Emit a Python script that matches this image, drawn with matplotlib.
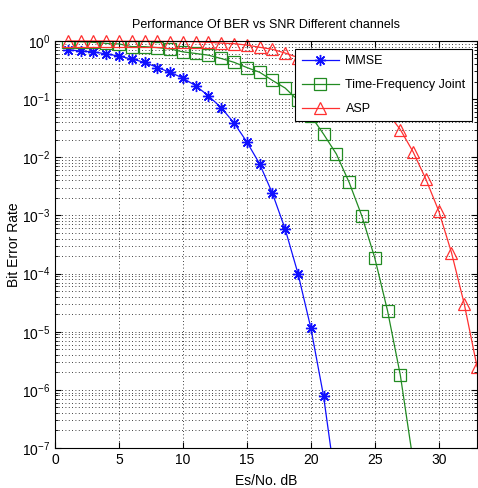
import matplotlib
matplotlib.use("Agg")
import matplotlib.pyplot as plt
from matplotlib.ticker import FixedLocator, LogFormatterSciNotation, NullFormatter
import numpy as np

plt.rcParams['font.family'] = ['Liberation Sans', 'DejaVu Sans']
plt.rcParams['mathtext.fontset'] = 'custom'
plt.rcParams['mathtext.rm'] = 'Liberation Sans'
plt.rcParams['mathtext.it'] = 'Liberation Sans'

snr_mmse = list(range(1, 23))
ber_mmse = [0.71, 0.67, 0.65, 0.60, 0.55, 0.49, 0.43, 0.35, 0.29, 0.230,
            0.17, 0.114, 0.071, 0.039, 0.0184, 0.0077, 0.0024, 5.8e-4,
            1.0e-4, 1.17e-5, 7.8e-7, 2e-8]

snr_tfj = list(range(1, 29))
ber_tfj = [0.98, 0.97, 0.95, 0.91, 0.89, 0.80, 0.80, 0.77, 0.73, 0.65,
           0.61, 0.57, 0.50, 0.43, 0.35, 0.29, 0.21, 0.155, 0.095, 0.052,
           0.025, 0.0114, 0.0037, 9.7e-4, 1.87e-4, 2.3e-5, 1.8e-6, 6e-8]

snr_asp = list(range(1, 34))
ber_asp = [1.0, 1.0, 1.0, 1.0, 0.99, 0.99, 0.99, 0.99, 0.98, 0.98,
           0.97, 0.95, 0.92, 0.90, 0.85, 0.78, 0.72, 0.62, 0.52, 0.42,
           0.33, 0.25, 0.18, 0.13, 0.09, 0.058, 0.030, 0.0124, 0.0042,
           1.2e-3, 2.3e-4, 3.0e-5, 2.5e-6]

labels = ['MMSE', 'Time-Frequency Joint', 'ASP']
title = 'Performance Of BER vs SNR Different channels'
x_ticks = [0, 5, 10, 15, 20, 25, 30]
y_decades = list(range(-7, 1))

fig = plt.figure(figsize=(4.78, 4.88), dpi=100)
ax = fig.add_axes([0.115, 0.082, 0.883, 0.834])

ax.semilogy(snr_mmse, ber_mmse, color='#1010ff', marker=(8, 2, 0), markersize=8,
            markeredgewidth=1.0, linewidth=0.9, label=labels[0])
ax.semilogy(snr_tfj, ber_tfj, color='#228b22', marker='s', markersize=8,
            markerfacecolor='none', markeredgewidth=0.9, linewidth=0.9, label=labels[1])
ax.semilogy(snr_asp, ber_asp, color='#ff3030', marker='^', markersize=8,
            markerfacecolor='none', markeredgewidth=0.9, linewidth=0.9, label=labels[2],
            clip_on=False)

ax.set_xlim(0, 33)
ax.set_ylim(1e-7, 1)
ax.xaxis.set_major_locator(FixedLocator(x_ticks))
ax.yaxis.set_major_locator(FixedLocator([10.0 ** e for e in y_decades]))
ax.yaxis.set_major_formatter(LogFormatterSciNotation())
ax.yaxis.set_minor_locator(FixedLocator([s * 10.0 ** e for e in y_decades[:-1] for s in range(2, 10)]))
ax.yaxis.set_minor_formatter(NullFormatter())

ax.grid(True, which='major', linestyle=(0, (1, 3)), color='black', linewidth=0.6)
ax.grid(True, which='minor', axis='y', linestyle=(0, (1, 3)), color='black', linewidth=0.6)
ax.tick_params(which='both', direction='in', top=True, right=True, labelsize=10)
ax.tick_params(which='major', length=4)
ax.tick_params(which='minor', length=2)
for s in ax.spines.values():
    s.set_linewidth(0.8)

ax.set_title(title, fontsize=9, pad=9)
ax.set_xlabel('Es/No. dB', fontsize=10, labelpad=5)
ax.set_ylabel('Bit Error Rate', fontsize=10)
ax.yaxis.set_label_coords(-0.08, 0.5)

leg = ax.legend(loc='upper right', bbox_to_anchor=(0.988, 0.9805), fontsize=9,
                fancybox=False, framealpha=1, edgecolor='black', handlelength=3.0,
                numpoints=1, borderpad=0.5, labelspacing=0.95, handletextpad=0.5,
                borderaxespad=0)
leg.get_frame().set_linewidth(0.8)
leg.set_zorder(5)

fig.savefig('out.png', dpi=100, facecolor='white')
